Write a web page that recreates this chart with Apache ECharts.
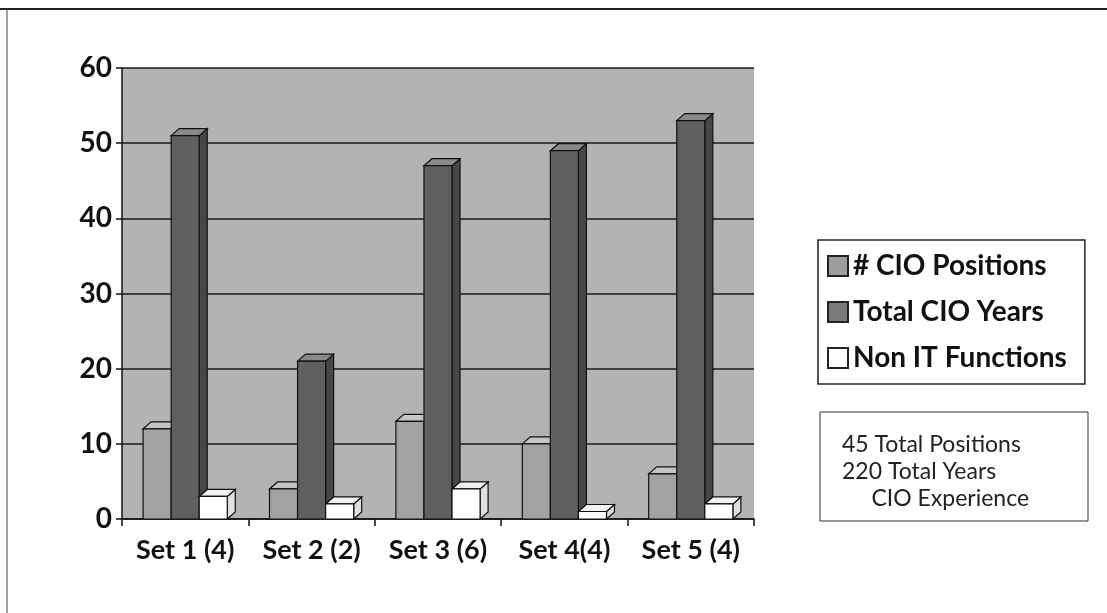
<!DOCTYPE html>
<html>
<head>
<meta charset="utf-8">
<script src="https://cdn.jsdelivr.net/npm/echarts@6/dist/echarts.min.js"></script>
<style>
  html, body { margin: 0; padding: 0; background: #fff; }
  #main { width: 1107px; height: 613px; }
</style>
</head>
<body>
<div id="main"></div>
<script>
// categories and values
var categories = ['Set 1 (4)', 'Set 2 (2)', 'Set 3 (6)', 'Set 4(4)', 'Set 5 (4)'];
var cioPositions = [12, 4, 13, 10, 6];
var totalCioYears = [51, 21, 47, 49, 53];
var nonItFunctions = [3, 2, 4, 1, 2];
var yTicks = [0, 10, 20, 30, 40, 50, 60];
var noteLines = ['45 Total Positions', '220 Total Years', '     CIO Experience'];

var FONT = 'Lato, "Open Sans", sans-serif';

// 3d box bars, 3 per category, side by side
function box3d(idx, front, top, side) {
    return function (params, api) {
        var cat = api.value(0), val = api.value(1);
        var p0 = api.coord([cat, 0]);
        var p1 = api.coord([cat, val]);
        var catW = api.size([1, 0])[0];
        var w = catW * 0.222;
        var x0 = p0[0] - 1.5 * w + idx * w;
        var x1 = x0 + w;
        var yb = p0[1], yt = p1[1];
        var dx = 8, dy = -7;
        var ln = { stroke: '#111', lineWidth: 1.2 };
        return {
            type: 'group',
            children: [
                { type: 'polygon', shape: { points: [[x1, yb], [x1 + dx, yb + dy], [x1 + dx, yt + dy], [x1, yt]] },
                  style: Object.assign({ fill: side }, ln) },
                { type: 'polygon', shape: { points: [[x0, yt], [x0 + dx, yt + dy], [x1 + dx, yt + dy], [x1, yt]] },
                  style: Object.assign({ fill: top }, ln) },
                { type: 'rect', shape: { x: x0, y: yt, width: w, height: yb - yt },
                  style: Object.assign({ fill: front }, ln) }
            ]
        };
    };
}

function toData(arr) {
    return arr.map(function (v, i) { return [i, v]; });
}

var chart = echarts.init(document.getElementById('main'));
var option = {
    backgroundColor: '#ffffff',
    animation: false,
    grid: {
        left: 122,
        right: 353,
        top: 68,
        bottom: 94,
        show: true,
        backgroundColor: '#b3b3b3',
        borderWidth: 0
    },
    legend: {
        orient: 'vertical',
        left: 818,
        top: 240,
        padding: [12, 18, 12, 9],
        itemGap: 18,
        itemWidth: 20,
        itemHeight: 20,
        icon: 'rect',
        borderColor: '#222',
        borderWidth: 1.5,
        textStyle: { fontFamily: FONT, fontWeight: 'bold', fontSize: 28, color: '#111', lineHeight: 28 },
        data: ['# CIO Positions', 'Total CIO Years', 'Non IT Functions']
    },
    xAxis: {
        type: 'category',
        data: categories,
        axisLine: { lineStyle: { color: '#111', width: 1.5 } },
        axisTick: { show: true, length: 7, lineStyle: { color: '#111', width: 1.5 } },
        axisLabel: { interval: 0, fontFamily: FONT, fontWeight: 'bold', fontSize: 27, color: '#111', margin: 18 },
        splitLine: { show: false }
    },
    yAxis: {
        type: 'value',
        min: 0,
        max: 60,
        interval: 10,
        axisLine: { show: true, lineStyle: { color: '#111', width: 1.5 } },
        axisTick: { show: true, length: 6, lineStyle: { color: '#111', width: 1.5 } },
        axisLabel: {
            fontFamily: FONT, fontWeight: 'bold', fontSize: 28, color: '#111', margin: 10,
            formatter: function (v) { return yTicks.indexOf(v) >= 0 ? String(v) : ''; }
        },
        splitLine: { lineStyle: { color: '#1a1a1a', width: 1.5 } }
    },
    series: [
        {
            name: '# CIO Positions',
            type: 'custom',
            renderItem: box3d(0, '#a2a2a2', '#c4c4c4', '#8a8a8a'),
            itemStyle: { color: '#9d9d9d', borderColor: '#222', borderWidth: 1 },
            encode: { x: 0, y: 1 },
            data: toData(cioPositions)
        },
        {
            name: 'Total CIO Years',
            type: 'custom',
            renderItem: box3d(1, '#5f5f5f', '#8a8a8a', '#474747'),
            itemStyle: { color: '#7a7a7a', borderColor: '#222', borderWidth: 1 },
            encode: { x: 0, y: 1 },
            data: toData(totalCioYears)
        },
        {
            name: 'Non IT Functions',
            type: 'custom',
            renderItem: box3d(2, '#ffffff', '#f2f2f2', '#e0e0e0'),
            itemStyle: { color: '#ffffff', borderColor: '#222', borderWidth: 1 },
            encode: { x: 0, y: 1 },
            data: toData(nonItFunctions)
        }
    ],
    graphic: [
        // outer frame of the figure
        { type: 'line', shape: { x1: 0, y1: 9, x2: 1107, y2: 9 }, style: { stroke: '#222', lineWidth: 2 } },
        { type: 'line', shape: { x1: 7, y1: 9, x2: 7, y2: 613 }, style: { stroke: '#444', lineWidth: 1 } },
        // note box
        { type: 'rect', shape: { x: 820, y: 412, width: 268, height: 109 },
          style: { fill: '#fff', stroke: '#333', lineWidth: 1 } },
        { type: 'text', left: 842, top: 431,
          style: { text: noteLines.join('\n'), font: '23px ' + FONT, fill: '#222', lineHeight: 27 } }
    ]
};
chart.setOption(option);
</script>
</body>
</html>
